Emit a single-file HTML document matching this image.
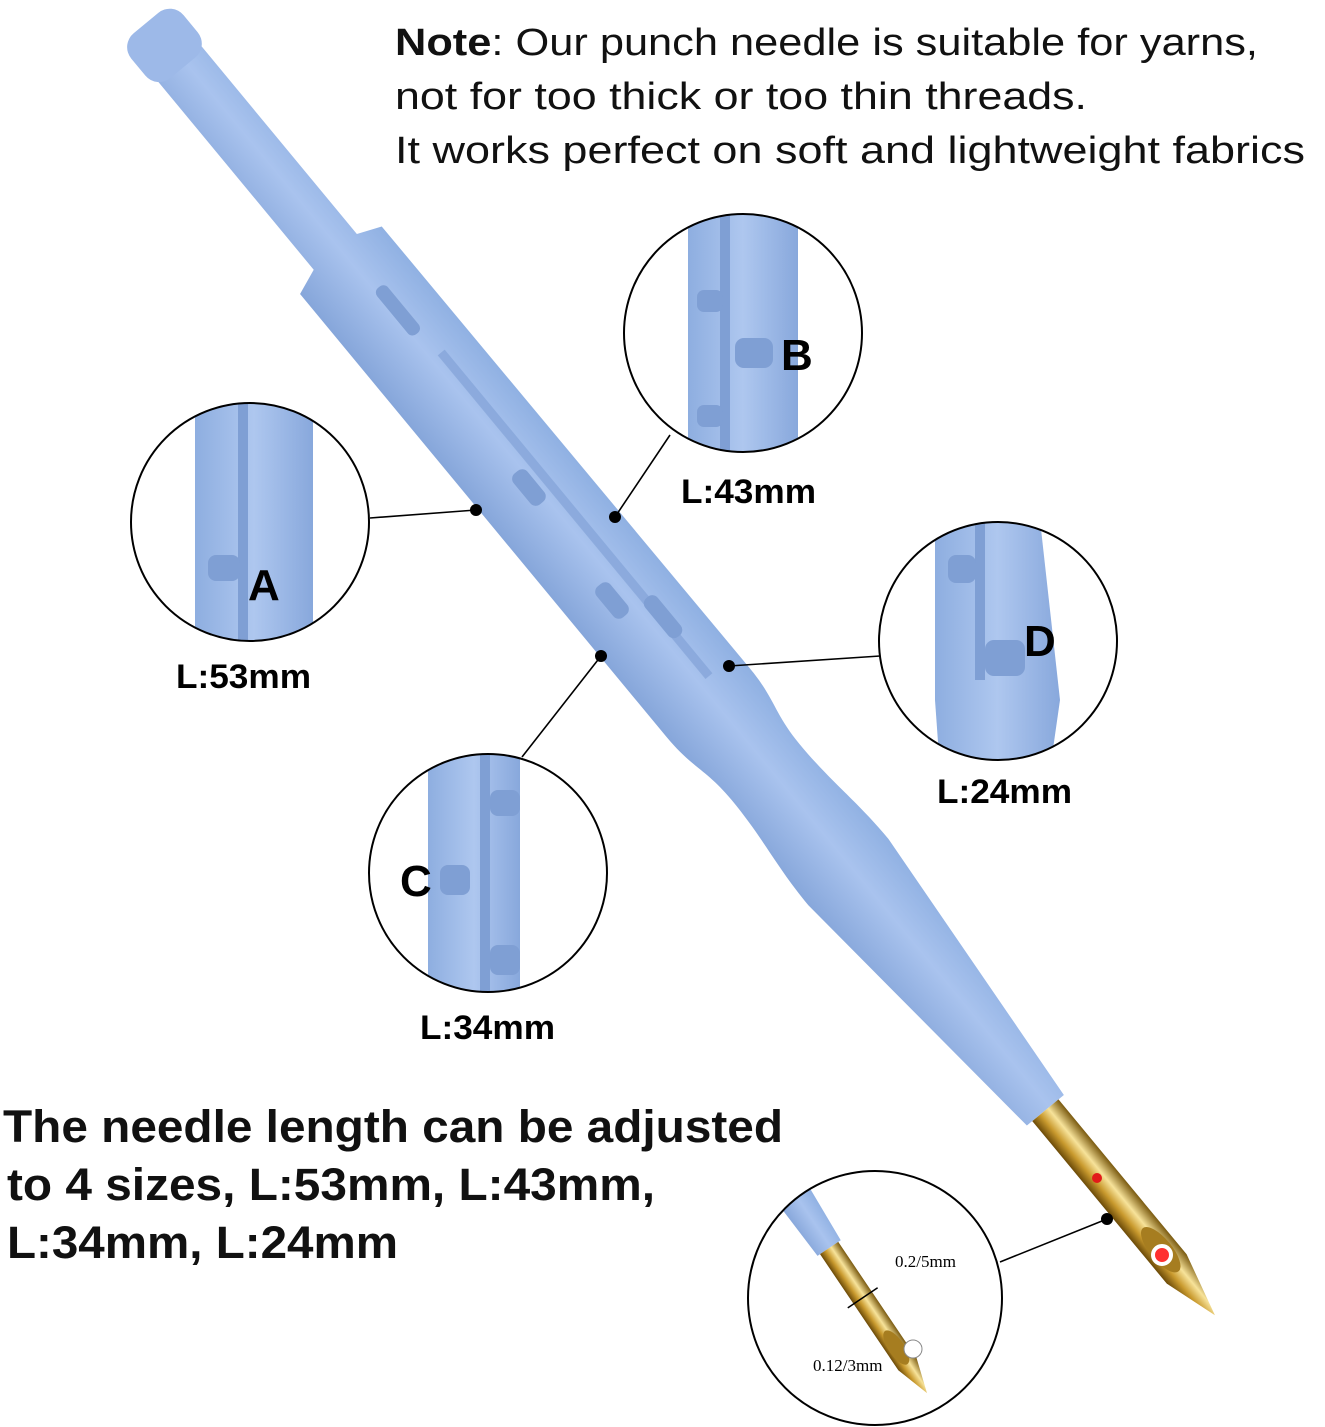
<!DOCTYPE html>
<html><head><meta charset="utf-8"><style>
html,body{margin:0;padding:0;background:#fff;}
svg{display:block;}
text{font-family:"Liberation Sans",Arial,sans-serif;}
</style></head><body>
<svg width="1325" height="1427" viewBox="0 0 1325 1427" xmlns="http://www.w3.org/2000/svg">
<defs>
<linearGradient id="blue" x1="0" y1="0" x2="0" y2="1">
<stop offset="0" stop-color="#8fb0e2"/><stop offset="0.45" stop-color="#a9c3ee"/><stop offset="1" stop-color="#86a6da"/>
</linearGradient>
<linearGradient id="gold" x1="0" y1="0" x2="0" y2="1">
<stop offset="0" stop-color="#7a5a10"/><stop offset="0.4" stop-color="#f7e39a"/><stop offset="0.7" stop-color="#c99a2e"/><stop offset="1" stop-color="#6b4a08"/>
</linearGradient>
<linearGradient id="bv" x1="0" y1="0" x2="1" y2="0">
<stop offset="0" stop-color="#8eaee0"/><stop offset="0.5" stop-color="#aec7ef"/><stop offset="1" stop-color="#88a8dc"/>
</linearGradient>
<clipPath id="cA"><circle cx="250" cy="522" r="119"/></clipPath>
<clipPath id="cB"><circle cx="743" cy="333" r="119"/></clipPath>
<clipPath id="cC"><circle cx="488" cy="873" r="119"/></clipPath>
<clipPath id="cD"><circle cx="998" cy="641" r="119"/></clipPath>
<clipPath id="cE"><circle cx="875" cy="1298" r="127"/></clipPath>
</defs>

<!-- pen -->
<g transform="translate(160,40) rotate(50.4)">
<path d="M0,-28 L275,-28 L285,-52 L860,-54 C900,-54 910,-44 950,-44 C1000,-44 1030,-52 1080,-52 L1389,-24 L1389,24 L1080,52 C1030,52 1000,44 950,44 C910,44 900,54 860,54 L285,54 L275,28 L0,28 Z" fill="url(#blue)"/>
<rect x="-22" y="-34" width="58" height="68" rx="18" fill="#9db9e8"/>
<rect x="330" y="-18" width="60" height="14" rx="6" fill="#7f9fd4"/>
<rect x="420" y="-22" width="420" height="9" fill="#7d9dd3" opacity="0.6"/>
<rect x="560" y="-8" width="40" height="18" rx="7" fill="#7f9fd4"/>
<rect x="700" y="0" width="40" height="18" rx="7" fill="#7f9fd4"/>
<rect x="740" y="-28" width="50" height="16" rx="7" fill="#7f9fd4"/>
<!-- needle -->
<path d="M1389,-17 L1590,-17 L1655,0 L1600,17 L1389,17 Z" fill="url(#gold)"/>
<ellipse cx="1570" cy="0" rx="28" ry="11" fill="#a67d20"/>
</g>
<circle cx="1097" cy="1178" r="5" fill="#e21a1a"/>
<circle cx="1162" cy="1255" r="9" fill="#ff3030" stroke="#fff" stroke-width="4"/>

<!-- connector lines -->
<g stroke="#000" stroke-width="1.6">
<line x1="370" y1="518" x2="476" y2="510"/>
<line x1="670" y1="435" x2="615" y2="517"/>
<line x1="522" y1="757" x2="601" y2="656"/>
<line x1="880" y1="656" x2="729" y2="666"/>
<line x1="1000" y1="1262" x2="1107" y2="1219"/>
</g>
<g fill="#000">
<circle cx="476" cy="510" r="6"/><circle cx="615" cy="517" r="6"/>
<circle cx="601" cy="656" r="6"/><circle cx="729" cy="666" r="6"/>
<circle cx="1107" cy="1219" r="6"/>
</g>

<!-- circle A -->
<circle cx="250" cy="522" r="119" fill="#fff"/>
<g clip-path="url(#cA)">
<rect x="195" y="400" width="118" height="250" fill="url(#bv)"/>
<rect x="238" y="400" width="10" height="250" fill="#7f9fd4"/>
<rect x="208" y="555" width="32" height="26" rx="8" fill="#7f9fd4"/>
</g>
<circle cx="250" cy="522" r="119" fill="none" stroke="#000" stroke-width="2"/>
<text x="248" y="600" font-size="44" font-weight="bold">A</text>

<!-- circle B -->
<circle cx="743" cy="333" r="119" fill="#fff"/>
<g clip-path="url(#cB)">
<rect x="688" y="210" width="110" height="250" fill="url(#bv)"/>
<rect x="720" y="210" width="10" height="250" fill="#7f9fd4"/>
<rect x="735" y="338" width="38" height="30" rx="9" fill="#7f9fd4"/>
<rect x="697" y="290" width="26" height="22" rx="7" fill="#7f9fd4"/>
<rect x="697" y="405" width="26" height="22" rx="7" fill="#7f9fd4"/>
</g>
<circle cx="743" cy="333" r="119" fill="none" stroke="#000" stroke-width="2"/>
<text x="781" y="370" font-size="44" font-weight="bold">B</text>

<!-- circle C -->
<circle cx="488" cy="873" r="119" fill="#fff"/>
<g clip-path="url(#cC)">
<rect x="428" y="750" width="92" height="250" fill="url(#bv)"/>
<rect x="480" y="750" width="10" height="250" fill="#7f9fd4"/>
<rect x="490" y="790" width="30" height="26" rx="8" fill="#7f9fd4"/>
<rect x="490" y="945" width="30" height="30" rx="8" fill="#7f9fd4"/>
<rect x="440" y="865" width="30" height="30" rx="8" fill="#7f9fd4"/>
</g>
<circle cx="488" cy="873" r="119" fill="none" stroke="#000" stroke-width="2"/>
<text x="400" y="896" font-size="44" font-weight="bold">C</text>

<!-- circle D -->
<circle cx="998" cy="641" r="119" fill="#fff"/>
<g clip-path="url(#cD)">
<path d="M935,520 L1040,520 L1060,700 L1050,770 L940,770 L935,700 Z" fill="url(#bv)"/>
<rect x="975" y="520" width="10" height="160" fill="#7f9fd4"/>
<rect x="948" y="555" width="28" height="28" rx="8" fill="#7f9fd4"/>
<rect x="985" y="640" width="40" height="36" rx="9" fill="#7f9fd4"/>
</g>
<circle cx="998" cy="641" r="119" fill="none" stroke="#000" stroke-width="2"/>
<text x="1024" y="656" font-size="44" font-weight="bold">D</text>

<!-- circle E (needle) -->
<circle cx="875" cy="1298" r="127" fill="#fff"/>
<g clip-path="url(#cE)">
<g transform="translate(790,1190) rotate(56)">
<path d="M0,-18 L70,-14 L70,14 L0,18 Z" fill="url(#blue)"/>
<path d="M70,-11 L210,-11 L245,0 L210,11 L70,11 Z" fill="url(#gold)"/>
<ellipse cx="190" cy="0" rx="20" ry="8" fill="#a67d20"/>
<line x1="130" y1="-18" x2="130" y2="18" stroke="#000" stroke-width="1.5"/>
</g>
<circle cx="913" cy="1349" r="9" fill="#fff" stroke="#888"/>
</g>
<circle cx="875" cy="1298" r="127" fill="none" stroke="#000" stroke-width="2"/>
<text x="895" y="1267" font-size="17" style="font-family:'Liberation Serif',serif">0.2/5mm</text>
<text x="813" y="1371" font-size="17" style="font-family:'Liberation Serif',serif">0.12/3mm</text>

<!-- labels -->
<g font-size="34" font-weight="bold">
<text x="176" y="688" textLength="135" lengthAdjust="spacingAndGlyphs">L:53mm</text>
<text x="681" y="503" textLength="135" lengthAdjust="spacingAndGlyphs">L:43mm</text>
<text x="420" y="1039" textLength="135" lengthAdjust="spacingAndGlyphs">L:34mm</text>
<text x="937" y="803" textLength="135" lengthAdjust="spacingAndGlyphs">L:24mm</text>
</g>

<!-- top note -->
<g font-size="38" fill="#111">
<text x="395" y="55" textLength="863" lengthAdjust="spacingAndGlyphs"><tspan font-weight="bold">Note</tspan>: Our punch needle is suitable for yarns,</text>
<text x="395" y="109" textLength="692" lengthAdjust="spacingAndGlyphs">not for too thick or too thin threads.</text>
<text x="395" y="163" textLength="910" lengthAdjust="spacingAndGlyphs">It works perfect on soft and lightweight fabrics</text>
</g>

<!-- bottom text -->
<g font-size="45" font-weight="bold" fill="#111">
<text x="3" y="1142" textLength="780" lengthAdjust="spacingAndGlyphs">The needle length can be adjusted</text>
<text x="7" y="1200" textLength="648" lengthAdjust="spacingAndGlyphs">to 4 sizes, L:53mm, L:43mm,</text>
<text x="7" y="1258" textLength="391" lengthAdjust="spacingAndGlyphs">L:34mm, L:24mm</text>
</g>
</svg>
</body></html>
